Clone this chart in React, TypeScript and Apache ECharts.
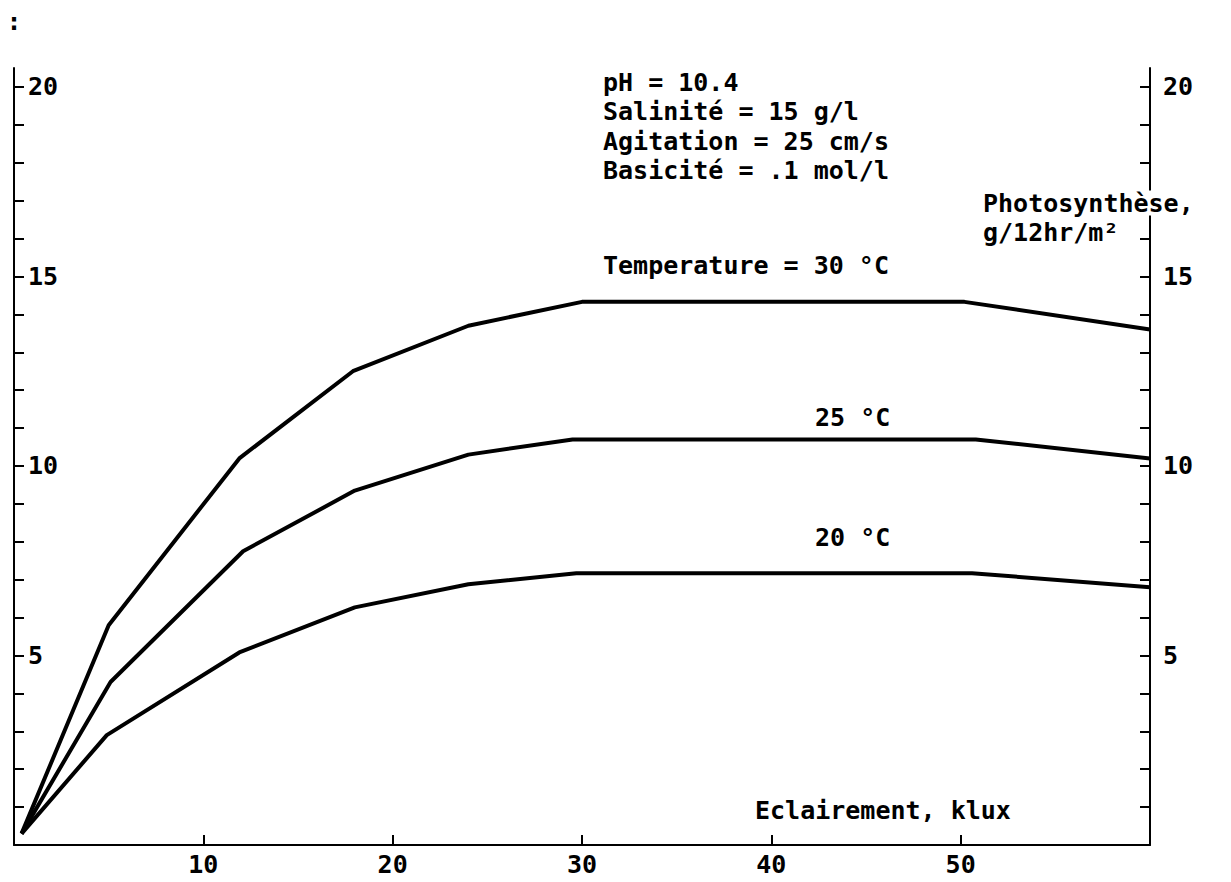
import React, { useEffect, useRef } from "react";
import * as echarts from "echarts";

// Illumination (klux) and photosynthesis (g/12hr/m²) for three temperatures
const lux30 = [0.4, 5.0, 11.9, 17.9, 24.0, 30.0, 50.2, 60];
const p30 = [0.3, 5.8, 10.2, 12.5, 13.7, 14.33, 14.33, 13.6];
const lux25 = [0.4, 5.1, 12.1, 18.0, 24.0, 29.5, 50.8, 60];
const p25 = [0.3, 4.3, 7.75, 9.35, 10.3, 10.7, 10.7, 10.2];
const lux20 = [0.4, 4.9, 11.9, 18.0, 24.0, 29.7, 50.6, 60];
const p20 = [0.3, 2.9, 5.08, 6.27, 6.88, 7.17, 7.17, 6.8];

const xTicks = [10, 20, 30, 40, 50];
const yTicks = [1, 2, 3, 4, 5, 6, 7, 8, 9, 10, 11, 12, 13, 14, 15, 16, 17, 18, 19, 20];
const yLabels = [5, 10, 15, 20];

const infoLines = ["pH = 10.4", "Salinité = 15 g/l", "Agitation = 25 cm/s", "Basicité = .1 mol/l"];

const FONT = "DejaVu Sans Mono";
const FS = 25;
const FW = "bold";

function txt(text: string, x: number, y: number, extra: any = {}) {
  return {
    type: "text",
    x,
    y,
    z: 100,
    style: {
      text,
      fill: "#000",
      font: `${FW} ${FS}px "${FONT}"`,
      align: "left",
      verticalAlign: "middle",
      textAlign: "left",
      textVerticalAlign: "middle",
      ...extra,
    },
  };
}

export default function App() {
  const ref = useRef<HTMLDivElement>(null);
  useEffect(() => {
    if (!ref.current) return;
    const chart = echarts.init(ref.current, undefined, { renderer: "svg" });
    const pair = (xs: number[], ys: number[]) => xs.map((x, i) => [x, ys[i]]);
    const lineSeries = (name: string, data: number[][]) => ({
      name,
      type: "line",
      data,
      showSymbol: false,
      symbol: "none",
      lineStyle: { color: "#000", width: 4 },
      z: 5,
    });
    const labelStyle = {
      color: "#000",
      fontFamily: FONT,
      fontSize: FS,
      fontWeight: FW,
    };
    const yCommon = {
      type: "value",
      min: 0,
      max: 20.5,
      splitLine: { show: false },
      axisLine: { show: true, lineStyle: { color: "#000", width: 2 } },
      axisTick: {
        show: true,
        inside: true,
        length: 10,
        customValues: yTicks,
        lineStyle: { color: "#000", width: 2 },
      },
    };
    chart.setOption({
      animation: false,
      backgroundColor: "#fff",
      textStyle: { fontFamily: FONT },
      grid: { left: 14, right: 81, top: 68, bottom: 37, outerBoundsMode: "none" },
      xAxis: {
        type: "value",
        min: 0,
        max: 60,
        splitLine: { show: false },
        axisLine: { show: true, lineStyle: { color: "#000", width: 2 } },
        axisTick: {
          show: true,
          inside: true,
          length: 10,
          customValues: xTicks,
          lineStyle: { color: "#000", width: 2 },
        },
        axisLabel: {
          customValues: xTicks,
          ...labelStyle,
          margin: 7,
        },
      },
      yAxis: [
        {
          ...yCommon,
          position: "left",
          axisLabel: {
            inside: true,
            customValues: yLabels,
            ...labelStyle,
            margin: 14,
          },
        },
        {
          ...yCommon,
          position: "right",
          axisLabel: {
            customValues: yLabels,
            ...labelStyle,
            margin: 13,
          },
        },
      ],
      series: [
        lineSeries("30 °C", pair(lux30, p30)),
        lineSeries("25 °C", pair(lux25, p25)),
        lineSeries("20 °C", pair(lux20, p20)),
      ],
      graphic: [
        txt(":", 14, 21, { align: "center", textAlign: "center" }),
        ...infoLines.map((t, i) => txt(t, 603, 82 + i * 29.5)),
        txt("Temperature = 30 °C", 603, 265),
        txt("Photosynthèse,", 983, 203, { backgroundColor: "#fff" }),
        txt("g/12hr/m²", 983, 232, { backgroundColor: "#fff" }),
        txt("25 °C", 815, 417),
        txt("20 °C", 815, 537),
        txt("Eclairement, klux", 755, 810),
      ],
    });
    return () => chart.dispose();
  }, []);
  return (
    <div
      ref={ref}
      style={{ position: "absolute", left: 0, top: 0, width: 1231, height: 882 }}
    />
  );
}
